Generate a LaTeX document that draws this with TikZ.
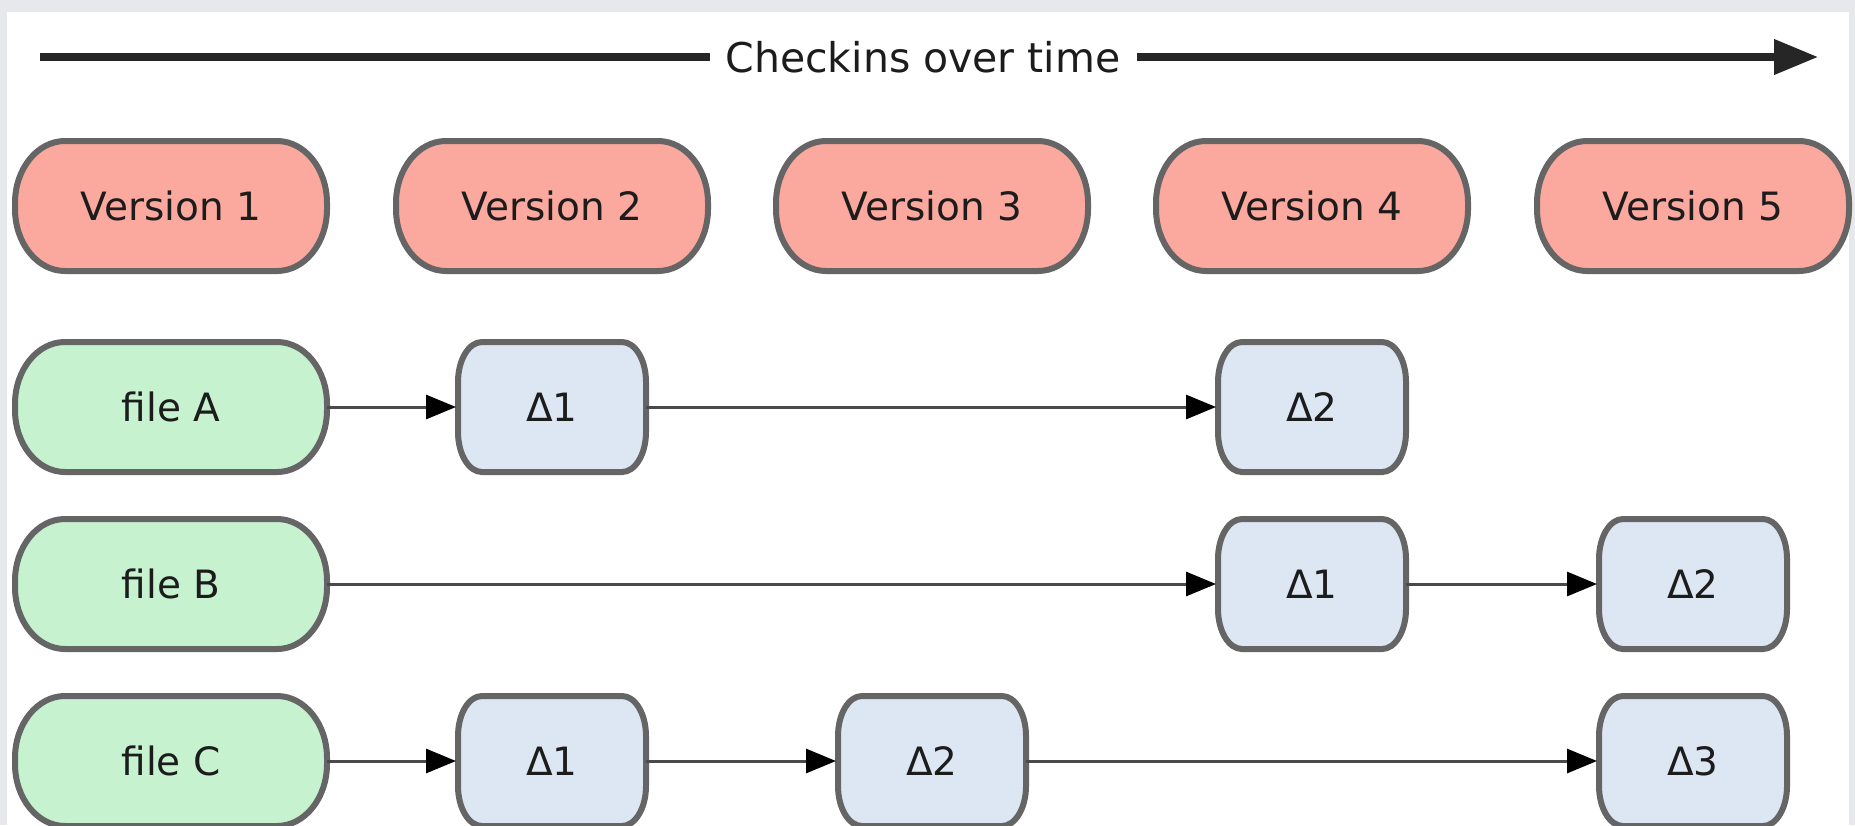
\documentclass[tikz,border=0pt]{standalone}
\usepackage{fontspec}
\setmainfont{DejaVu Sans}
\usetikzlibrary{arrows.meta,positioning}
\pgfdeclarelayer{bg}
\pgfdeclarelayer{shapes}
\pgfsetlayers{bg,shapes,main}
\definecolor{pagegray}{HTML}{E6E8EB}
\definecolor{verfill}{HTML}{FBA89E}
\definecolor{filefill}{HTML}{C6F2CF}
\definecolor{deltafill}{HTML}{DDE7F4}
\definecolor{bordergray}{HTML}{656565}
\definecolor{linkgray}{HTML}{4A4A4A}
\definecolor{txt}{HTML}{1C1C1C}
\tikzset{
  lbl/.style={font=\fontsize{19.5}{23}\selectfont, text=txt, inner sep=0pt, outer sep=0pt},
  verbox/.style={lbl, minimum width=156pt, minimum height=65pt},
  filebox/.style={lbl, minimum width=156pt, minimum height=65pt},
  deltabox/.style={lbl, minimum width=94pt, minimum height=65pt},
  boxborder/.style={draw=bordergray, line width=3pt},
  link/.style={draw=linkgray, line width=1.5pt, -{Triangle[length=15pt,width=12pt,fill=black,color=black]}, shorten >=1pt},
  topline/.style={draw=black!85, line width=3.6pt},
  titlelbl/.style={lbl, font=\fontsize{20.5}{24}\selectfont, fill=white, inner xsep=8pt, inner ysep=2pt}
}
\newcommand{\ovalshape}[4]{%
  \draw[boxborder, fill=#4]
    ([xshift=#2]#1.north west) -- ([xshift=-#2]#1.north east)
    arc[start angle=90, end angle=0, x radius=#2, y radius=#3]
    -- ([yshift=#3]#1.south east)
    arc[start angle=0, end angle=-90, x radius=#2, y radius=#3]
    -- ([xshift=#2]#1.south west)
    arc[start angle=270, end angle=180, x radius=#2, y radius=#3]
    -- ([yshift=-#3]#1.north west)
    arc[start angle=180, end angle=90, x radius=#2, y radius=#3]
    -- cycle;}
\begin{document}
\begin{tikzpicture}[x=0.5pt, y=-0.5pt]
  \useasboundingbox (0,0) rectangle (1855,825);
  \begin{pgfonlayer}{bg}
    \fill[pagegray] (0,0) rectangle (1855,825);
    \fill[white] (7,12) rectangle (1849,830);
  \end{pgfonlayer}

  % title arrow
  \coordinate (tl) at (40,57);
  \coordinate (tr) at (1818,57);
  \node[titlelbl] (title) at (923,57) {Checkins over time};
  \draw[topline] (tl) -- (title.west);
  \draw[topline, -{Triangle[length=22pt,width=17pt]}] (title.east) -- (tr);

  % versions
  \node[verbox] (v1) at (171,206) {Version 1};
  \node[verbox] (v2) at (552,206) {Version 2};
  \node[verbox] (v3) at (932,206) {Version 3};
  \node[verbox] (v4) at (1312,206) {Version 4};
  \node[verbox] (v5) at (1693,206) {Version 5};

  % files
  \node[filebox] (fa) at (171,407) {file A};
  \node[filebox] (fb) at (171,584) {file B};
  \node[filebox] (fc) at (171,761) {file C};

  % deltas
  \node[deltabox] (a1) at (552,407) {Δ1};
  \node[deltabox] (a2) at (1312,407) {Δ2};
  \node[deltabox] (b1) at (1312,584) {Δ1};
  \node[deltabox] (b2) at (1693,584) {Δ2};
  \node[deltabox] (c1) at (552,761) {Δ1};
  \node[deltabox] (c2) at (932,761) {Δ2};
  \node[deltabox] (c3) at (1693,761) {Δ3};

  \begin{pgfonlayer}{shapes}
    \foreach \n in {v1,v2,v3,v4,v5} {\ovalshape{\n}{25pt}{31pt}{verfill}}
    \foreach \n in {fa,fb,fc} {\ovalshape{\n}{25pt}{31pt}{filefill}}
    \foreach \n in {a1,a2,b1,b2,c1,c2,c3} {\ovalshape{\n}{12pt}{20pt}{deltafill}}
  \end{pgfonlayer}

  % connectors
  \draw[link] (fa.east) -- (a1.west);
  \draw[link] (a1.east) -- (a2.west);
  \draw[link] (fb.east) -- (b1.west);
  \draw[link] (b1.east) -- (b2.west);
  \draw[link] (fc.east) -- (c1.west);
  \draw[link] (c1.east) -- (c2.west);
  \draw[link] (c2.east) -- (c3.west);
\end{tikzpicture}
\end{document}
